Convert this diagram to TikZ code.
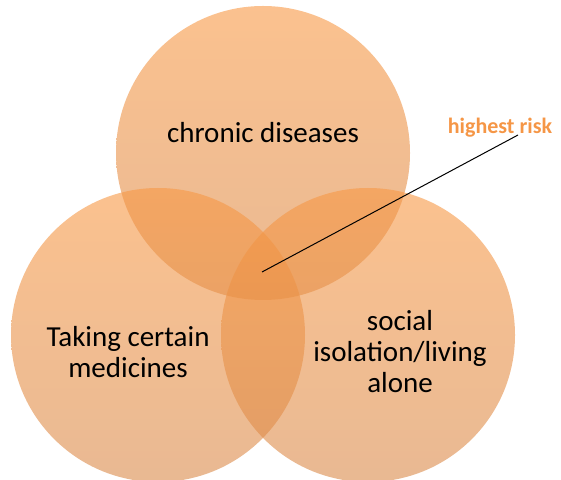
\documentclass[tikz,border=0pt]{standalone}
\usepackage{fontspec}
\setmainfont{Carlito}
\definecolor{vennTop}{RGB}{248,152,68}
\definecolor{vennBottom}{RGB}{218,138,74}
\definecolor{riskOrange}{RGB}{245,150,70}

\begin{document}
\begin{tikzpicture}[x=1pt,y=1pt,
    blob/.style={top color=vennTop,bottom color=vennBottom,fill opacity=0.6},
    label/.style={align=center,font=\fontsize{29}{31}\selectfont}]

            \useasboundingbox (0,0) rectangle (561,479);

            % the three sets
            \foreach \cx/\cy in {263/326,158/144,368/144} {
                \shade[blob] (\cx,\cy) circle (147);
            }

            \node (chronic) at (263,346) [label] {chronic diseases};
            \node (meds) at (128,127) [label] {Taking certain\\medicines};
            \node (alone) at (400,127) [label] {social\\isolation/living\\alone};

            \node (risk) at (500,345) [anchor=base,text=riskOrange,font=\fontsize{22}{24}\selectfont\bfseries] {highest risk};
            \coordinate (core) at (262,207);
            \coordinate (tip) at (518,344);
            \draw[line width=1pt] (core) -- (tip);

        \end{tikzpicture}
\end{document}
